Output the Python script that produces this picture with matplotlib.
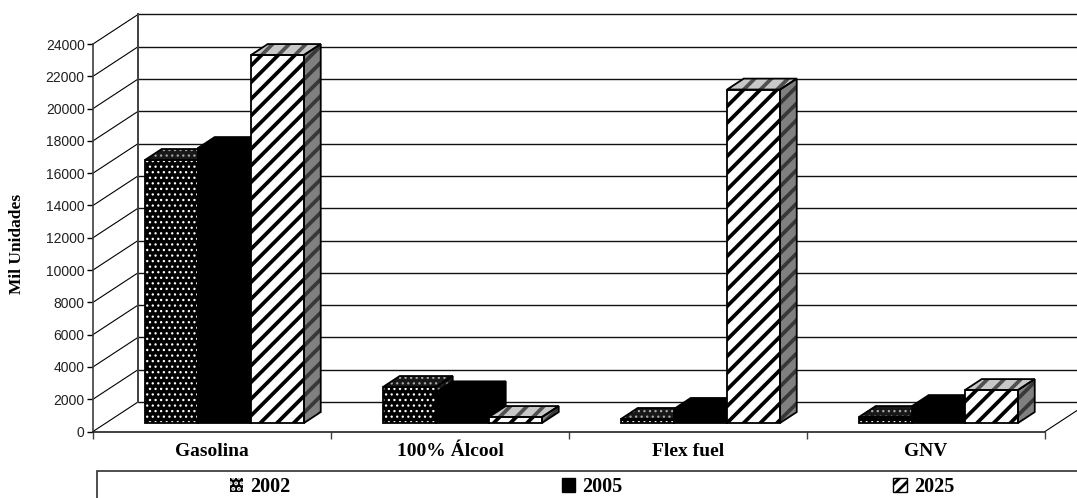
import matplotlib
matplotlib.use('Agg')
import matplotlib.pyplot as plt
from matplotlib.patches import Polygon, Patch, Rectangle

categories = ['Gasolina', '100% Álcool', 'Flex fuel', 'GNV']
years = ['2002', '2005', '2025']
v2002 = [16290, 2230, 250, 370]
v2005 = [17030, 1900, 870, 1050]
v2025 = [22790, 370, 20650, 2040]
y_ticks = list(range(0, 24001, 2000))

W, H = 1077, 498
serif = 'Liberation Serif'

fig = plt.figure(figsize=(W / 100, H / 100), dpi=100)
ax = fig.add_axes([93 / W, (H - 431.5) / H, 952 / W, 387.5 / H])
ax.set_xlim(0, 4)
ax.set_ylim(0, 24000)

# oblique depth of the 3d box, in data units
depth_x = 45 / 238
depth_y = 29.5 * 24000 / 387.5


def proj(x, v, d):
    return (x + d * depth_x, v + d * depth_y)


def line(p, q, color='black', lw=1.0, z=1):
    ax.plot([p[0], q[0]], [p[1], q[1]], color=color, lw=lw, clip_on=False, zorder=z)


# walls
for t in y_ticks:
    line(proj(0, t, 0), proj(0, t, 1), lw=0.8)
    line(proj(0, t, 1), proj(4.3, t, 1), color='#111111', lw=1.0)
line(proj(0, 0, 1), proj(0, 24000, 1), color='#404040', lw=1.4)
line(proj(4, 0, 0), proj(4, 0, 1), lw=0.8)

# style of the faces: face colour, hatch colour, hatch, hatch width
styles = {
    '2002': {'front': ('black', 'white', '...', 0.9), 'top': ('#181818', '#a8a8a8', '...', 0.9), 'side': ('#181818', '#808080', '...', 0.9)},
    '2005': {'front': ('black', 'black', None, 1), 'top': ('black', 'black', None, 1), 'side': ('black', 'black', None, 1)},
    '2025': {'front': ('white', 'black', '//', 2.7), 'top': ('#c8c8c8', '#505050', '//', 2.7), 'side': ('#808080', '#383838', '//', 2.7)},
}

bar_w = 53 / 238
d0, d1 = 0.29, 0.66


def face(pts, style, z):
    fc, hc, hatch, hlw = style
    plt.rcParams['hatch.linewidth'] = hlw
    ax.add_patch(Polygon(pts, closed=True, facecolor=fc, edgecolor=hc, hatch=hatch, lw=0, clip_on=False, zorder=z))
    ax.add_patch(Polygon(pts, closed=True, fill=False, edgecolor='black', lw=1.3, clip_on=False, zorder=z + 0.1))


for j, (year, vals) in enumerate(zip(years, [v2002, v2005, v2025])):
    for i, v in enumerate(vals):
        x0 = i + 0.164 + j * bar_w
        x1 = x0 + bar_w
        z = 3 + i + j * 0.2
        st = styles[year]
        face([proj(x1, 0, d0), proj(x1, 0, d1), proj(x1, v, d1), proj(x1, v, d0)], st['side'], z)
        face([proj(x0, v, d0), proj(x1, v, d0), proj(x1, v, d1), proj(x0, v, d1)], st['top'], z)
        face([proj(x0, 0, d0), proj(x1, 0, d0), proj(x1, v, d0), proj(x0, v, d0)], st['front'], z + 0.05)

# axes
for s in ['top', 'right']:
    ax.spines[s].set_visible(False)
ax.spines['left'].set_color('#404040')
ax.spines['left'].set_linewidth(1.2)
ax.spines['bottom'].set_color('#202020')
ax.spines['bottom'].set_linewidth(1.2)
ax.patch.set_visible(False)
ax.set_yticks(y_ticks)
ax.tick_params(axis='y', length=4, width=1, pad=2, labelsize=10, labelcolor='#202020')
for lab in ax.get_yticklabels():
    lab.set_family('Liberation Sans')
ax.set_xticks(range(5))
ax.set_xticklabels([])
ax.tick_params(axis='x', which='major', length=5, width=1, color='#404040')
ax.set_xticks([i + 0.5 for i in range(4)], minor=True)
ax.set_xticklabels(categories, minor=True, family=serif, fontweight='bold', fontsize=14)
ax.tick_params(axis='x', which='minor', length=0, pad=8)

fig.text(17 / W, 1 - 244 / H, 'Mil Unidades', rotation=90, ha='center', va='center',
         family=serif, fontweight='bold', fontsize=12.5)

# legend box, runs off the right and bottom edge
fig.add_artist(Rectangle((97 / W, -0.05), 1.0, 0.05 + (H - 471) / H, transform=fig.transFigure,
                         fill=False, edgecolor='#303030', lw=1.2))
handles = []
for year in years:
    fc, hc, hatch, hlw = styles[year]['front']
    plt.rcParams['hatch.linewidth'] = min(hlw, 2.0)
    legend_hatch = '///' if year == '2025' else hatch
    # edge colour is also the hatch colour, so the white dots get no outline
    handles.append(Patch(facecolor=fc, edgecolor=hc, hatch=legend_hatch, lw=0 if year == '2002' else 1))
leg = fig.legend(handles, years, ncol=3, frameon=False, loc='center left',
                 bbox_to_anchor=(230 / W, 1 - 487 / H), borderaxespad=0, borderpad=0,
                 handlelength=0.66, handleheight=0.66, handletextpad=0.36, columnspacing=13.45,
                 prop={'family': serif, 'weight': 'bold', 'size': 14.5})

fig.savefig('out.png', dpi=100)
